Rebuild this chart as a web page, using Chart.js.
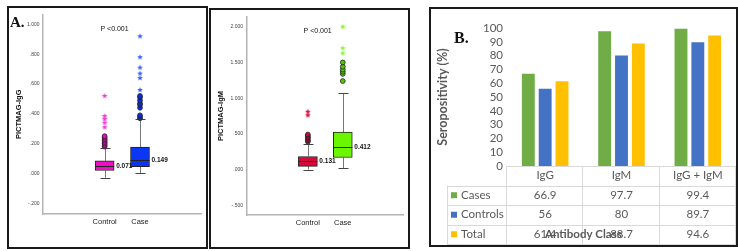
<!DOCTYPE html>
<html>
<head>
<meta charset="utf-8">
<script src="https://cdn.jsdelivr.net/npm/chart.js@4.4.0/dist/chart.umd.min.js"></script>
<style>
body { margin:0; background:#fff; width:738px; height:251px; position:relative; overflow:hidden; font-family:"Liberation Sans", Arial, sans-serif; }
.panel { position:absolute; border:2px solid #1a1a1a; box-sizing:border-box; }
canvas { position:absolute; }
.tag { position:absolute; font-family:"Liberation Serif","Times New Roman",serif; font-weight:bold; line-height:1; color:#111; }
</style>
</head>
<body>
<div class="panel" style="left:7px;top:6px;width:201px;height:243px"></div>
<div class="panel" style="left:209px;top:8px;width:201px;height:241px"></div>
<div class="panel" style="left:429px;top:7px;width:309px;height:240px"></div>

<canvas id="iggChart" width="197" height="238" style="left:9px;top:8px"></canvas>
<canvas id="igmChart" width="197" height="237" style="left:211px;top:10px"></canvas>
<canvas id="seroChart" width="305" height="236" style="left:431px;top:9px"></canvas>

<div class="tag" style="left:10px;top:15px;font-size:15px">A.</div>
<div class="tag" style="left:454px;top:30px;font-size:16px">B.</div>

<script>
// ---- box plot data ----
const boxCats = ['Control', 'Case'];

// PICTMAG-IgG
const iggTicks = [-0.2, 0, 0.2, 0.4, 0.6, 0.8, 1.0];
const iggLo  = [-0.028, 0.000];
const iggQ1  = [0.020, 0.046];
const iggMed = [0.052, 0.092];
const iggQ3  = [0.085, 0.177];
const iggHi  = [0.170, 0.365];
const iggMean = ['0.071', '0.149'];
const iggCircControl = [0.18, 0.19, 0.20, 0.21, 0.22, 0.23, 0.24, 0.25];
const iggStarControl = [0.31, 0.34, 0.365, 0.385, 0.52];
const iggCircCase = [0.37, 0.38, 0.39, 0.44, 0.46, 0.47, 0.49, 0.51, 0.52];
const iggStarCase = [0.56, 0.64, 0.67, 0.71, 0.78, 0.92];

// PICTMAG-IgM
const igmTicks = [-0.5, 0, 0.5, 1.0, 1.5, 2.0];
const igmLo  = [0.000, 0.022];
const igmQ1  = [0.045, 0.169];
const igmMed = [0.114, 0.316];
const igmQ3  = [0.183, 0.526];
const igmHi  = [0.352, 1.066];
const igmMean = ['0.131', '0.412'];
const igmCircControl = [0.39, 0.41, 0.43, 0.45, 0.47, 0.49];
const igmStarControl = [0.76, 0.81];
const igmCircCase = [1.24, 1.34, 1.37, 1.40, 1.44, 1.50];
const igmStarCase = [1.63, 1.70, 2.00];

// ---- bar + table data, panel B ----
const abClasses = ['IgG', 'IgM', 'IgG + IgM'];
const seroTicks = [0, 10, 20, 30, 40, 50, 60, 70, 80, 90, 100];
const casesPct = [66.9, 97.7, 99.4];
const controlsPct = [56, 80, 89.7];
const totalPct = [61.4, 88.7, 94.6];

// little filled 5-point star used as pointStyle
function starImage(fill, r) {
    const c = document.createElement('canvas');
    const s = Math.ceil(r * 2 + 2);
    c.width = s; c.height = s;
    const g = c.getContext('2d');
    g.fillStyle = fill;
    g.beginPath();
    for (let k = 0; k < 10; k++) {
        const rad = k % 2 ? r * 0.45 : r;
        const a = -Math.PI / 2 + k * Math.PI / 5;
        g.lineTo(s / 2 + rad * Math.cos(a), s / 2 + rad * Math.sin(a));
    }
    g.closePath();
    g.fill();
    return c;
}

function fmtSpss(v) {
    // SPSS style: 1.000 / .800 / -.200
    let s = Math.abs(v).toFixed(3);
    if (s.startsWith('0')) s = s.slice(1);
    return (v < 0 ? '-' : '') + s;
}

function makeBoxChart(id, d) {
    const ctx = document.getElementById(id).getContext('2d');

    const outliers = (vals, i, style, fill, stroke) => ({
        type: 'scatter',
        data: vals.map(v => ({x: i, y: v})),
        pointStyle: style,
        pointRadius: 2.4,
        backgroundColor: fill,
        borderColor: stroke,
        borderWidth: 0.8,
        order: 1
    });

    const boxBits = {
        id: 'boxBits',
        beforeDatasetsDraw(chart) {
            const {ctx, scales: {x, y}} = chart;
            ctx.save();
            ctx.lineWidth = 1;
            d.q1.forEach((q, i) => {
                const cx = Math.round(x.getPixelForValue(i)) + 0.5;
                ctx.strokeStyle = '#777';
                ctx.beginPath();
                ctx.moveTo(cx, y.getPixelForValue(d.lo[i]));
                ctx.lineTo(cx, y.getPixelForValue(d.q1[i]));
                ctx.moveTo(cx, y.getPixelForValue(d.q3[i]));
                ctx.lineTo(cx, y.getPixelForValue(d.hi[i]));
                ctx.stroke();
                ctx.strokeStyle = '#444';
                ctx.beginPath();
                [d.lo[i], d.hi[i]].forEach(v => {
                    const py = Math.round(y.getPixelForValue(v)) + 0.5;
                    ctx.moveTo(cx - 5, py);
                    ctx.lineTo(cx + 5, py);
                });
                ctx.stroke();
            });
            ctx.restore();
        },
        afterDatasetsDraw(chart) {
            const {ctx, chartArea, scales: {x, y}} = chart;
            ctx.save();
            d.med.forEach((m, i) => {
                const cx = x.getPixelForValue(i);
                const py = Math.round(y.getPixelForValue(m)) + 0.5;
                ctx.strokeStyle = '#222';
                ctx.lineWidth = 1;
                ctx.beginPath();
                ctx.moveTo(cx - 9.5, py);
                ctx.lineTo(cx + 9.5, py);
                ctx.stroke();
                ctx.fillStyle = '#111';
                ctx.font = 'bold 6.5px "Liberation Sans", Arial';
                ctx.textAlign = 'left';
                ctx.textBaseline = 'middle';
                ctx.fillText(d.mean[i], cx + 11.5, py);
            });
            // p value
            ctx.fillStyle = '#111';
            ctx.font = '7px "Liberation Sans", Arial';
            ctx.textAlign = 'center';
            ctx.textBaseline = 'middle';
            ctx.fillText('P <0.001', x.getPixelForValue(0.28), chartArea.top + 14.5);
            ctx.restore();
        }
    };

    return new Chart(ctx, {
        type: 'bar',
        data: {
            datasets: [
                {
                    type: 'bar',
                    data: boxCats.map((c, i) => ({x: i, y: [d.q1[i], d.q3[i]]})),
                    backgroundColor: d.fills,
                    borderColor: '#222',
                    borderWidth: 1,
                    borderSkipped: false,
                    barThickness: 19,
                    order: 2
                },
                outliers(d.circControl, 0, 'circle', d.circFill[0], '#222'),
                outliers(d.circCase, 1, 'circle', d.circFill[1], '#222'),
                outliers(d.starControl, 0, starImage(d.starFill[0], 3), d.starFill[0], d.starFill[0]),
                outliers(d.starCase, 1, starImage(d.starFill[1], 3), d.starFill[1], d.starFill[1])
            ]
        },
        options: {
            responsive: false,
            animation: false,
            layout: {padding: {top: d.padTop, right: d.padRight, left: 0, bottom: 0}},
            plugins: {legend: {display: false}, tooltip: {enabled: false}},
            scales: {
                x: {
                    type: 'linear',
                    min: -0.625,
                    max: 1.612,
                    afterBuildTicks: s => { s.ticks = boxCats.map((c, i) => ({value: i})); },
                    afterFit: s => { s.height = d.xH; },
                    grid: {display: false, drawTicks: false},
                    border: {display: true, color: '#b4b4b4', width: 1.5},
                    ticks: {
                        padding: 3,
                        color: '#222',
                        font: {family: '"Liberation Sans", Arial', size: 7.5},
                        callback: v => boxCats[v]
                    }
                },
                y: {
                    min: d.min,
                    max: d.max,
                    afterBuildTicks: s => { s.ticks = d.ticks.map(v => ({value: v})); },
                    afterFit: s => { s.width = d.yW; },
                    grid: {display: false, drawTicks: false},
                    border: {display: true, color: '#b4b4b4', width: 1.5},
                    ticks: {
                        padding: d.tickPad,
                        autoSkip: false,
                        color: '#444',
                        font: {family: '"Liberation Sans", Arial', size: 5},
                        callback: v => fmtSpss(v)
                    },
                    title: {
                        display: true,
                        text: d.title,
                        color: '#111',
                        padding: {top: d.titlePad, bottom: 0},
                        font: {family: '"Liberation Sans", Arial', size: 7.5, weight: 'bold'}
                    }
                }
            }
        },
        plugins: [boxBits]
    });
}

makeBoxChart('iggChart', {
    title: 'PICTMAG-IgG', ticks: iggTicks, min: -0.272, max: 1.066,
    lo: iggLo, q1: iggQ1, med: iggMed, q3: iggQ3, hi: iggHi, mean: iggMean,
    circControl: iggCircControl, starControl: iggStarControl,
    circCase: iggCircCase, starCase: iggStarCase,
    fills: ['#f30cc6', '#0a36f5'],
    circFill: ['#e010b8', '#0a2ee0'],
    starFill: ['#f23ad0', '#3a63f7'],
    padTop: 2, padRight: 2, yW: 34, xH: 32, tickPad: 3.5, titlePad: 5
});

makeBoxChart('igmChart', {
    title: 'PICTMAG-IgM', ticks: igmTicks, min: -0.637, max: 2.137,
    lo: igmLo, q1: igmQ1, med: igmMed, q3: igmQ3, hi: igmHi, mean: igmMean,
    circControl: igmCircControl, starControl: igmStarControl,
    circCase: igmCircCase, starCase: igmStarCase,
    fills: ['#d60a3c', '#6cf500'],
    circFill: ['#c00a35', '#4ccc00'],
    starFill: ['#d4143f', '#8cf53a'],
    padTop: 3, padRight: 1, yW: 36, xH: 32, tickPad: 4, titlePad: 5
});

// ---- panel B: grouped bars with data table underneath ----
const seroColors = ['#70ad47', '#4472c4', '#ffc000'];
const seroNames = ['Cases', 'Controls', 'Total'];
const seroFont = '"Lato", "Open Sans", sans-serif';

const tablePlugin = {
    id: 'dataTable',
    afterDraw(chart) {
        const {ctx, chartArea, scales: {x}} = chart;
        const rowH = 19.5;
        const top = chartArea.bottom;
        const left = 16;
        const colW = (chartArea.right - chartArea.left) / abClasses.length;
        const rows = [casesPct, controlsPct, totalPct];
        ctx.save();
        ctx.strokeStyle = '#d9d9d9';
        ctx.lineWidth = 1;
        ctx.beginPath();
        for (let r = 1; r <= 4; r++) {
            const py = Math.round(top + r * rowH) + 0.5;
            ctx.moveTo(left, py);
            ctx.lineTo(chartArea.right, py);
        }
        ctx.moveTo(left + 0.5, top + rowH);
        ctx.lineTo(left + 0.5, top + 4 * rowH);
        for (let c = 0; c <= abClasses.length; c++) {
            const px = Math.round(chartArea.left + c * colW) - 0.5;
            ctx.moveTo(px, top);
            ctx.lineTo(px, top + 4 * rowH);
        }
        ctx.stroke();

        ctx.fillStyle = '#595959';
        ctx.font = '11.5px ' + seroFont;
        ctx.textBaseline = 'middle';
        ctx.textAlign = 'center';
        abClasses.forEach((name, i) => {
            ctx.fillText(name, x.getPixelForValue(i), top + rowH / 2);
        });
        rows.forEach((vals, r) => {
            const cy = top + (r + 1.5) * rowH;
            ctx.fillStyle = seroColors[r];
            ctx.fillRect(left + 4, cy - 3, 6, 6);
            ctx.fillStyle = '#595959';
            ctx.textAlign = 'left';
            ctx.fillText(seroNames[r], left + 14, cy);
            ctx.textAlign = 'center';
            vals.forEach((v, i) => ctx.fillText(String(v), x.getPixelForValue(i), cy));
        });
        // axis title lands on top of the last row, like in the original
        ctx.font = 'bold 11.5px ' + seroFont;
        ctx.fillText('Antibody Class', x.getPixelForValue(0.5), top + 3.5 * rowH);
        ctx.restore();
    }
};

new Chart(document.getElementById('seroChart').getContext('2d'), {
    type: 'bar',
    data: {
        labels: abClasses,
        datasets: [
            {label: 'Cases', data: casesPct, backgroundColor: seroColors[0]},
            {label: 'Controls', data: controlsPct, backgroundColor: seroColors[1]},
            {label: 'Total', data: totalPct, backgroundColor: seroColors[2]}
        ]
    },
    options: {
        responsive: false,
        animation: false,
        categoryPercentage: 0.662,
        barPercentage: 0.765,
        layout: {padding: {top: 19, right: 0, left: 0, bottom: 0}},
        plugins: {legend: {display: false}, tooltip: {enabled: false}},
        scales: {
            x: {
                ticks: {display: false},
                grid: {display: false, drawTicks: false},
                border: {display: true, color: '#d9d9d9', width: 1},
                afterFit: s => { s.height = 79; }
            },
            y: {
                min: 0,
                max: 100,
                afterBuildTicks: s => { s.ticks = seroTicks.map(v => ({value: v})); },
                afterFit: s => { s.width = 76; },
                grid: {display: false, drawTicks: false},
                border: {display: false},
                ticks: {padding: 4, autoSkip: false, color: '#595959', font: {family: seroFont, size: 11.5}},
                title: {
                    display: true,
                    text: 'Seropositivity (%)',
                    color: '#595959',
                    padding: {top: 4, bottom: 0},
                    font: {family: seroFont, size: 12.5, weight: 'bold'}
                }
            }
        }
    },
    plugins: [tablePlugin]
});
</script>
</body>
</html>
